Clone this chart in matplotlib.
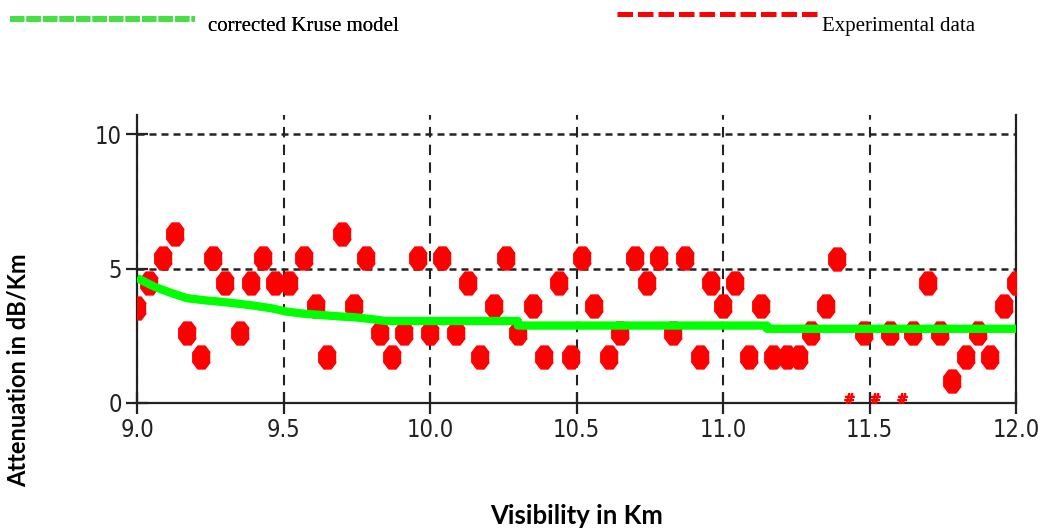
import numpy as np
import matplotlib
matplotlib.use('Agg')
import matplotlib.pyplot as plt
from matplotlib.lines import Line2D
from matplotlib.legend_handler import HandlerLine2D

# corrected Kruse model (green curve)
model_x = [9.0, 9.06, 9.12, 9.17, 9.23, 9.28, 9.34, 9.40, 9.46, 9.51, 9.57, 9.63,
           9.69, 9.74, 9.80, 9.85, 10.30, 10.30, 11.15, 11.15, 12.0]
model_y = [4.65, 4.32, 4.08, 3.90, 3.82, 3.77, 3.70, 3.62, 3.52, 3.40, 3.32, 3.27,
           3.22, 3.19, 3.12, 3.05, 3.05, 2.88, 2.88, 2.76, 2.76]

# experimental data (red dots)
exp_x = [9.00, 9.04, 9.09, 9.13, 9.17, 9.22, 9.26, 9.30, 9.35, 9.39,
         9.43, 9.47, 9.52, 9.57, 9.61, 9.65, 9.70, 9.74, 9.78, 9.83,
         9.87, 9.91, 9.96, 10.00, 10.04, 10.09, 10.13, 10.17, 10.22, 10.26,
         10.30, 10.35, 10.39, 10.44, 10.48, 10.52, 10.56, 10.61, 10.65, 10.70,
         10.74, 10.78, 10.83, 10.87, 10.92, 10.96, 11.00, 11.04, 11.09, 11.13,
         11.17, 11.22, 11.26, 11.30, 11.35, 11.39, 11.48, 11.57, 11.65, 11.70,
         11.74, 11.78, 11.83, 11.87, 11.91, 11.96, 12.00]
exp_y = [3.55, 4.45, 5.4, 6.3, 2.6, 1.7, 5.4, 4.45, 2.6, 4.45,
         5.4, 4.45, 4.45, 5.4, 3.6, 1.7, 6.3, 3.6, 5.4, 2.6,
         1.7, 2.6, 5.4, 2.6, 5.4, 2.6, 4.45, 1.7, 3.6, 5.4,
         2.6, 3.6, 1.7, 4.45, 1.7, 5.4, 3.6, 1.7, 2.6, 5.4,
         4.45, 5.4, 2.6, 5.4, 1.7, 4.45, 3.6, 4.45, 1.7, 3.6,
         1.7, 1.7, 1.7, 2.6, 3.6, 5.35, 2.6, 2.6, 2.6, 4.45,
         2.6, 0.8, 1.7, 2.6, 1.7, 3.6, 4.45]

# little red specks near the x axis
speck_x = [11.43, 11.52, 11.61]
speck_y = [0.2, 0.2, 0.2]

x_ticks = [9.0, 9.5, 10.0, 10.5, 11.0, 11.5, 12.0]
x_labels = ['9.0', '9.5', '10.0', '10.5', '11.0', '11.5', '12.0']
y_ticks = [0, 5, 10]


class RaisedLine(HandlerLine2D):
    # legend line sits a bit above the middle of its text
    def __init__(self, lift, **kw):
        super().__init__(**kw)
        self.lift = lift

    def create_artists(self, legend, orig_handle, xdescent, ydescent,
                       width, height, fontsize, trans):
        arts = super().create_artists(legend, orig_handle, xdescent, ydescent,
                                      width, height, fontsize, trans)
        for a in arts:
            a.set_ydata(np.asarray(a.get_ydata()) + self.lift)
        return arts


fig = plt.figure(figsize=(10.4, 5.28), dpi=100)
ax = fig.add_axes([137/1040, 1-403/528, (1016-137)/1040, (403-115)/528])

# octagon marker, a little taller than wide
ang = np.deg2rad(np.arange(8)*45 + 22.5)
octo = list(zip(0.76*np.cos(ang), np.sin(ang)))

ax.plot(exp_x, exp_y, linestyle='none', marker=octo, markersize=16.5,
        color='#ff0000', zorder=3)
ax.plot(model_x, model_y, color='#00ff00', linewidth=6, solid_capstyle='butt',
        zorder=4)
ax.plot(speck_x, speck_y, linestyle='none', marker='$\\#$', markersize=7,
        color='#ff0000', zorder=3)

ax.set_xlim(9.0, 12.0)
ax.set_ylim(0, 10.71)
ax.set_xticks(x_ticks)
ax.set_xticklabels(x_labels)
ax.set_yticks(y_ticks)

ax.grid(axis='x', color='#222222', linewidth=1.5, dashes=(5, 3.5))
ax.grid(axis='y', color='#222222', linewidth=1.8, dashes=(2.8, 2))
ax.set_axisbelow(True)

ax.spines['top'].set_visible(False)
for s in ['left', 'right', 'bottom']:
    ax.spines[s].set_linewidth(1.6)
    ax.spines[s].set_color('#222222')

ax.tick_params(direction='inout', length=16, width=1.6, color='#222222',
               labelsize=17, pad=3)
for lab in ax.get_xticklabels() + ax.get_yticklabels():
    lab.set_family('DejaVu Sans')
    lab.set_fontstretch('condensed')
    lab.set_color('#222222')

ax.set_xlabel('Visibility in Km', fontfamily='Lato', fontweight='bold', fontsize=18.5)
ax.xaxis.set_label_coords(0.5, -0.35)
fig.text(18/1040, 1-370/528, 'Attenuation in dB/Km', rotation=90,
         ha='center', va='center', fontfamily='Lato', fontweight='bold', fontsize=17)

# legend across the top
h1 = Line2D([], [], color='#44e044', linewidth=4.2, dashes=(2.45, 0.38))
h2 = Line2D([], [], color='#ff0000', linewidth=3.6, dashes=(3.1, 1.0))
leg1 = fig.legend([h1], ['corrected Kruse model'], loc='center left',
                  bbox_to_anchor=(10/1040, 1-26/528), frameon=False,
                  handlelength=8.9, handletextpad=0.62, borderpad=0,
                  borderaxespad=0, handler_map={Line2D: RaisedLine(3.5)},
                  prop={'family': 'Liberation Serif', 'size': 15})
leg2 = fig.legend([h2], ['Experimental data'], loc='center left',
                  bbox_to_anchor=(617/1040, 1-26/528), frameon=False,
                  handlelength=9.65, handletextpad=0.2, borderpad=0,
                  borderaxespad=0, handler_map={Line2D: RaisedLine(7)},
                  prop={'family': 'Liberation Serif', 'size': 15})
fig.add_artist(leg1)

plt.savefig('out.png', dpi=100)
plt.close()
